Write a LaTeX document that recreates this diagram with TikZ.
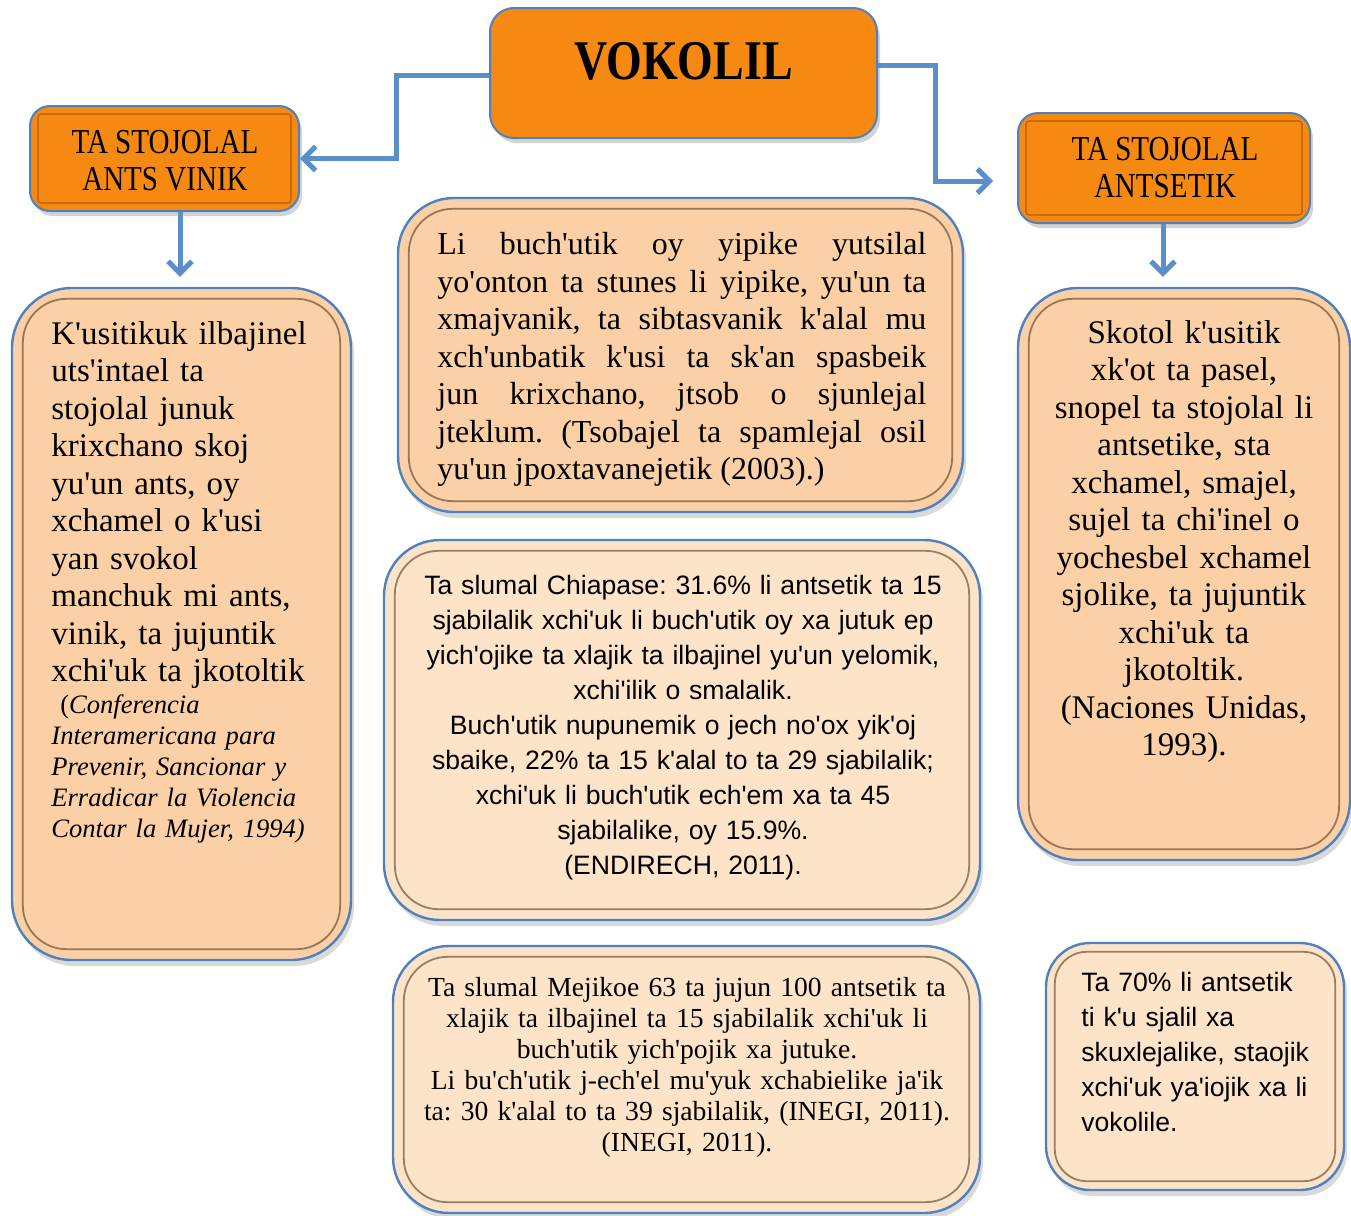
\documentclass[tikz,border=0pt]{standalone}
\usepackage{fontspec}
\setmainfont{Liberation Serif}[Ligatures=TeXOff]
\setsansfont{Liberation Sans}[Ligatures=TeXOff]
\usetikzlibrary{arrows.meta,shadows,calc}
\frenchspacing

\definecolor{orangeF}{HTML}{F58912}
\definecolor{orangeD}{HTML}{C86A08}
\definecolor{peach}{HTML}{FCD0A6}
\definecolor{peachL}{HTML}{FDE4C8}
\definecolor{bordblue}{HTML}{4F81BD}
\definecolor{linkblue}{HTML}{5B8FC9}
\definecolor{bevelbrown}{HTML}{5A3A1E}

\begin{document}
\begin{tikzpicture}[x=0.5pt,y=-0.5pt,
    hdbox/.style={draw=bordblue,line width=1pt,fill=orangeF,rounded corners=10pt,inner sep=0pt,
      drop shadow={shadow xshift=1.5pt,shadow yshift=-2.5pt,opacity=0.35}},
    txtbox/.style={draw=bordblue,line width=1.2pt,fill=peach,rounded corners=28pt,inner sep=0pt,
      drop shadow={shadow xshift=1.5pt,shadow yshift=-3pt,opacity=0.3}},
    bevel/.style={draw=bevelbrown,line width=0.9pt,opacity=0.6,rounded corners=22pt},
    hdinner/.style={draw=orangeD,line width=0.8pt,rounded corners=1.5pt},
    link/.style={draw=linkblue,line width=2.5pt,-{Straight Barb[length=6pt,width=12pt,line width=2.5pt]}},
    hdfont/.style={font=\fontsize{17.5}{18.5}\selectfont\addfontfeature{FakeStretch=0.83}},
    serifbig/.style={font=\fontsize{16.5}{18.75}\selectfont},
    sansmid/.style={font=\sffamily\fontsize{13.3}{17.5}\selectfont}
  ]
  \useasboundingbox (0,0) rectangle (1351,1216);

  % header boxes
  \node[hdbox,minimum width=193.5pt,minimum height=65pt,rounded corners=12pt] at (683.5,73) (top) {};
  \node[hdbox,minimum width=134.5pt,minimum height=52.5pt] at (164.5,158.5) (hL) {};
  \node[hdbox,minimum width=146pt,minimum height=55pt] at (1164,168) (hR) {};
  \draw[hdinner] ([shift={(9,-9)}]hL.south west) rectangle ([shift={(-9,9)}]hL.north east);
  \draw[hdinner] ([shift={(9,-9)}]hR.south west) rectangle ([shift={(-9,9)}]hR.north east);
  \node[inner sep=0pt] at (683.5,61) (tTop)
    {\fontsize{28}{30}\selectfont\bfseries\addfontfeature{FakeStretch=0.82}VOKOLIL};
  \node[hdfont,align=center,inner sep=0pt] at (165,161) (tL) {TA STOJOLAL\\ANTS VINIK};
  \node[hdfont,align=center,inner sep=0pt] at (1165,168) (tR) {TA STOJOLAL\\ANTSETIK};

  % text boxes
  \node[txtbox,minimum width=169.5pt,minimum height=336pt,rounded corners=30pt] at (181.5,624) (bL) {};
  \node[txtbox,minimum width=282.5pt,minimum height=157pt] at (680.5,355) (bC1) {};
  \node[txtbox,fill=peachL,minimum width=298pt,minimum height=190pt] at (682,730) (bC2) {};
  \node[txtbox,fill=peachL,minimum width=293.5pt,minimum height=133.5pt] at (686.5,1079.5) (bC3) {};
  \node[txtbox,minimum width=166pt,minimum height=286pt,rounded corners=30pt] at (1184,574) (bR) {};
  \node[txtbox,fill=peachL,minimum width=149pt,minimum height=123.5pt,rounded corners=22pt] at (1195,1066.5) (bR2) {};
  \foreach \b in {bL,bC1,bC2,bC3,bR}
    \draw[bevel] ([shift={(12,-12)}]\b.south west) rectangle ([shift={(-12,12)}]\b.north east);
  \draw[bevel,rounded corners=16pt] ([shift={(10,-10)}]bR2.south west) rectangle ([shift={(-10,10)}]bR2.north east);

  % texts
  \node[serifbig,anchor=north west,text width=160pt,align=left,inner sep=0pt] at (51,321) (txtL)
    {K'usitikuk ilbajinel\\uts'intael ta\\stojolal junuk\\krixchano skoj\\yu'un ants, oy\\xchamel o k'usi\\yan svokol\\manchuk mi ants,\\vinik, ta jujuntik\\xchi'uk ta jkotoltik};
  \node[font=\fontsize{13.3}{15.5}\selectfont,anchor=north west,text width=160pt,align=left,inner sep=0pt] at (51,694) (citL)
    {\ (\textit{Conferencia}\\\textit{Interamericana para}\\\textit{Prevenir, Sancionar y}\\\textit{Erradicar la Violencia}\\\textit{Contar la Mujer, 1994)}};
  \node[font=\fontsize{16}{18.75}\selectfont,anchor=north west,text width=244.5pt,align=justify,inner sep=0pt] at (437,232) (txtC1)
    {Li buch'utik oy yipike yutsilal\linebreak yo'onton ta stunes li yipike, yu'un ta\linebreak xmajvanik, ta sibtasvanik k'alal mu\linebreak xch'unbatik k'usi ta sk'an spasbeik\linebreak jun krixchano, jtsob o sjunlejal\linebreak jteklum. (Tsobajel ta spamlejal osil\linebreak yu'un jpoxtavanejetik (2003).)};
  \node[sansmid,anchor=north,text width=295pt,align=center,inner sep=0pt] at (683,575) (txtC2)
    {Ta slumal Chiapase: 31.6\% li antsetik ta 15\\sjabilalik xchi'uk li buch'utik oy xa jutuk ep\\yich'ojike ta xlajik ta ilbajinel yu'un yelomik,\\xchi'ilik o smalalik.\\Buch'utik nupunemik o jech no'ox yik'oj\\sbaike, 22\% ta 15 k'alal to ta 29 sjabilalik;\\xchi'uk li buch'utik ech'em xa ta 45\\sjabilalike, oy 15.9\%.\\(ENDIRECH, 2011).};
  \node[font=\fontsize{13.8}{15.5}\selectfont,anchor=north,text width=290pt,align=center,inner sep=0pt] at (687,977) (txtC3)
    {Ta slumal Mejikoe 63 ta jujun 100 antsetik ta\\xlajik ta ilbajinel ta 15 sjabilalik xchi'uk li\\buch'utik yich'pojik xa jutuke.\\Li bu'ch'utik j-ech'el mu'yuk xchabielike ja'ik\\ta: 30 k'alal to ta 39 sjabilalik, (INEGI, 2011).\\(INEGI, 2011).};
  \node[serifbig,anchor=north,text width=160pt,align=center,inner sep=0pt] at (1184,320) (txtR)
    {Skotol k'usitik\\xk'ot ta pasel,\\snopel ta stojolal li\\antsetike, sta\\xchamel, smajel,\\sujel ta chi'inel o\\yochesbel xchamel\\sjolike, ta jujuntik\\xchi'uk ta\\jkotoltik.\\(Naciones Unidas,\\1993).};
  \node[sansmid,anchor=north west,text width=140pt,align=left,inner sep=0pt] at (1081,972) (txtR2)
    {Ta 70\% li antsetik\\ti k'u sjalil xa\\skuxlejalike, staojik\\xchi'uk ya'iojik xa li\\vokolile.};

  % connectors
  \coordinate (arR) at (993,181);
  \draw[link] ([shift={(0,2)}]top.west) -- (396,75) |- (hL.east);
  \draw[link] ([shift={(0,-8)}]top.east) -- (935,65) |- (arR);
  \draw[link] ($(hL.south)+(15.5,0)$) -- ($(bL.north)+(-1.5,-10)$);
  \draw[link] ($(hR.south)+(-1,0)$) -- ($(bR.north)+(-21,-10)$);
\end{tikzpicture}
\end{document}
